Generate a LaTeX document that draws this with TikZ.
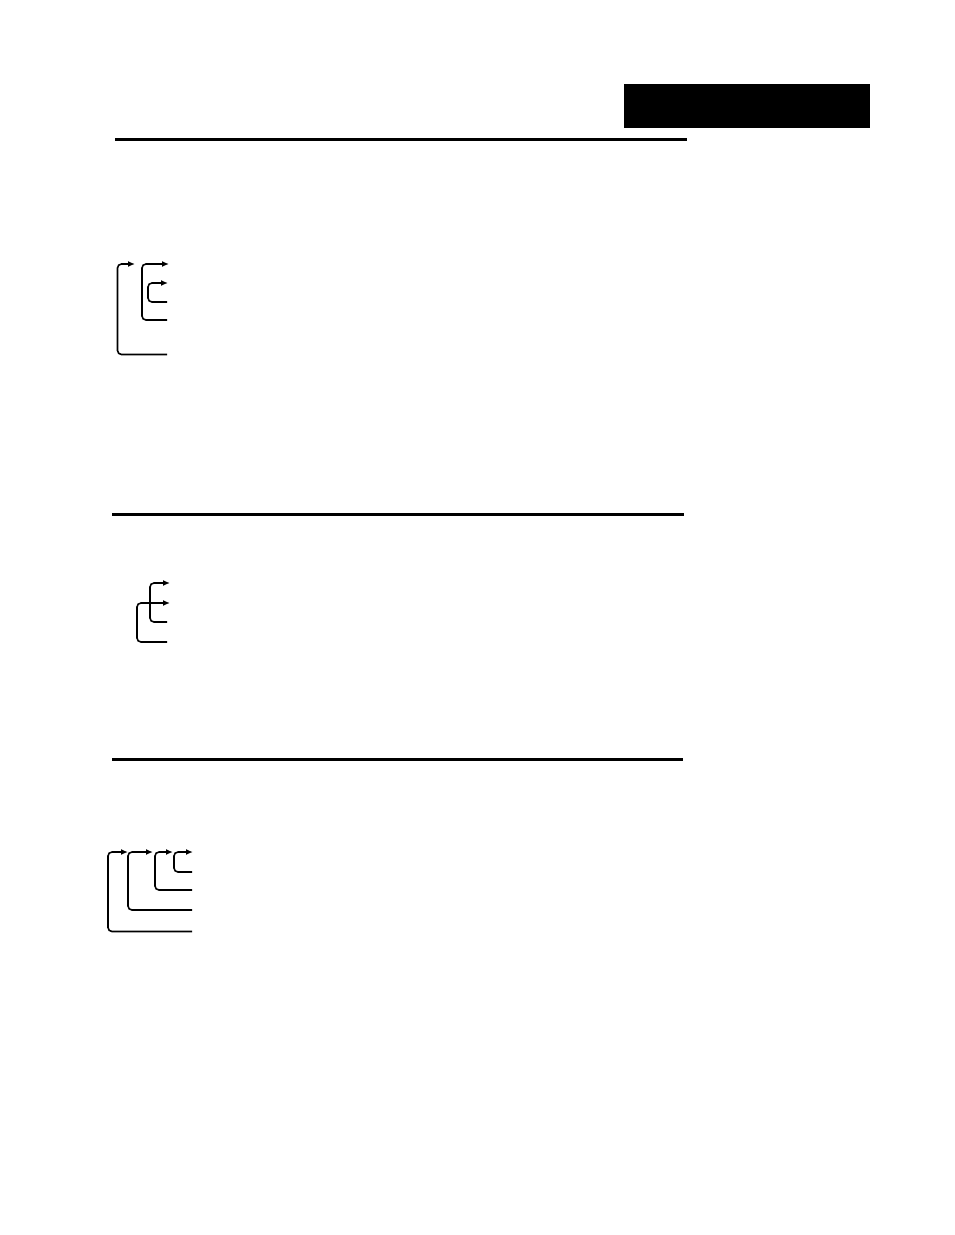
\documentclass[tikz,border=0pt]{standalone}
\usetikzlibrary{arrows.meta}
\tikzset{
  rule/.style={line width=3pt},
  loopline/.style={line width=1.6pt, rounded corners=4pt, -{Latex[length=7pt,width=6pt]}},
}
\begin{document}
\begin{tikzpicture}[x=1pt,y=-1pt]
  \useasboundingbox (0,0) rectangle (954,1235);
  \node[fill=black, inner sep=0pt, minimum width=246pt, minimum height=44pt, anchor=north west] (tab) at (624,84) {};
  % rules
  \coordinate (r1a) at (115,139.3);
  \coordinate (r1b) at (687,139.3);
  \coordinate (r2a) at (112,514);
  \coordinate (r2b) at (684,514);
  \coordinate (r3a) at (112,759.3);
  \coordinate (r3b) at (683,759.3);
  \draw[rule] (r1a) -- (r1b);
  \draw[rule] (r2a) -- (r2b);
  \draw[rule] (r3a) -- (r3b);
  % first group
  \coordinate (a1s) at (135,264);
  \coordinate (a1v) at (117.5,300);
  \coordinate (a1e) at (167,354.5);
  \coordinate (a2s) at (169,264);
  \coordinate (a2v) at (142,300);
  \coordinate (a2e) at (167,320);
  \coordinate (a3s) at (168,283);
  \coordinate (a3v) at (148,300);
  \coordinate (a3e) at (167,302);
  \begin{scope}
    \draw[loopline] (a1e) -- (a1e -| a1v) -- (a1s -| a1v) -- (a1s);
    \draw[loopline] (a2e) -- (a2e -| a2v) -- (a2s -| a2v) -- (a2s);
    \draw[loopline] (a3e) -- (a3e -| a3v) -- (a3s -| a3v) -- (a3s);
  \end{scope}
  % second group
  \coordinate (b1s) at (170,583);
  \coordinate (b1v) at (150,600);
  \coordinate (b1e) at (167,622);
  \coordinate (b2s) at (170,603);
  \coordinate (b2v) at (137,620);
  \coordinate (b2e) at (167,642);
  \begin{scope}
    \draw[loopline] (b1e) -- (b1e -| b1v) -- (b1s -| b1v) -- (b1s);
    \draw[loopline] (b2e) -- (b2e -| b2v) -- (b2s -| b2v) -- (b2s);
  \end{scope}
  % third group
  \coordinate (c1s) at (128,852);
  \coordinate (c1v) at (108,890);
  \coordinate (c1e) at (192,931.5);
  \coordinate (c2s) at (153,852);
  \coordinate (c2v) at (128,890);
  \coordinate (c2e) at (192,910);
  \coordinate (c3s) at (173,852);
  \coordinate (c3v) at (155,870);
  \coordinate (c3e) at (192,890);
  \coordinate (c4s) at (193,852);
  \coordinate (c4v) at (174,860);
  \coordinate (c4e) at (192,872);
  \begin{scope}
    \draw[loopline] (c1e) -- (c1e -| c1v) -- (c1s -| c1v) -- (c1s);
    \draw[loopline] (c2e) -- (c2e -| c2v) -- (c2s -| c2v) -- (c2s);
    \draw[loopline] (c3e) -- (c3e -| c3v) -- (c3s -| c3v) -- (c3s);
    \draw[loopline] (c4e) -- (c4e -| c4v) -- (c4s -| c4v) -- (c4s);
  \end{scope}
\end{tikzpicture}
\end{document}
